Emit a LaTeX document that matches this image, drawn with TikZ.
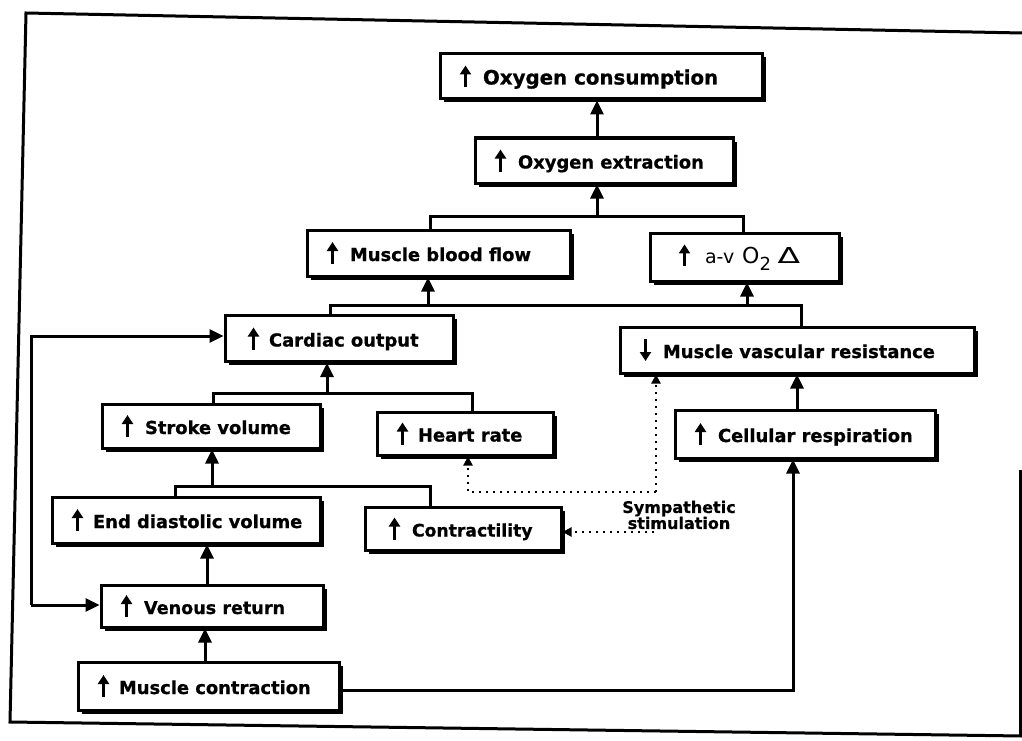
\documentclass[tikz,border=0pt]{standalone}
\usepackage{fontspec}
\usepackage{graphicx}
\setmainfont{DejaVu Sans}
\newfontfamily\heavy[FakeBold=0.8]{DejaVu Sans Bold}
\usetikzlibrary{arrows.meta,shadows}
\newcommand\myup{\tikz[baseline=0pt,x=1pt,y=1pt]\draw[line width=2.6pt,-{Triangle[length=9pt,width=11pt]}] (5.5,-3)--(5.5,19);}
\newcommand\mydown{\tikz[baseline=0pt,x=1pt,y=1pt]\draw[line width=2.6pt,-{Triangle[length=9pt,width=11pt]}] (5.5,19)--(5.5,-3);}
\newcommand\bx[2]{\makebox[#1][l]{#2}}
\begin{document}
\begin{tikzpicture}[x=1pt,y=-1pt,
  box/.style={draw, line width=3pt, fill=white, inner xsep=20pt, inner ysep=0pt,
    font=\fontsize{17.9}{20}\heavy,
    drop shadow={shadow xshift=3.5pt, shadow yshift=-3.5pt, fill=black, opacity=1}},
  conn/.style={line width=3pt},
  arr/.style={conn, -{Triangle[length=14pt,width=13pt]}},
  dots/.style={line width=2.6pt, dash pattern=on 2.5pt off 4.5pt},
  darr/.style={dots, -{Triangle[length=9pt,width=9pt]}},
  frame/.style={line width=3pt}
]
\useasboundingbox (0,0) rectangle (1022,741);
% frame
\draw[frame] (1022,33) -- (26,13) -- (10,722) -- (1022,736);
\draw[frame] (1020,470) -- (1020,735);

% boxes
\node[box, minimum height=45pt, font=\fontsize{19.8}{21}\heavy] (ocons) at (601,76.5) {\bx{282pt}{\myup\hspace{12pt}Oxygen consumption}};
\node[box, minimum height=45pt] (oext) at (604,160.5) {\bx{218pt}{\myup\hspace{12pt}Oxygen extraction}};
\node[box, minimum height=46pt] (mbf) at (438.5,253) {\bx{223pt}{\myup\hspace{12pt}Muscle blood flow}};
\node[box, minimum height=48pt] (av) at (744.5,257) {\bx{149pt}{\hspace{9pt}\myup\hspace{15pt}{\normalfont\fontsize{19}{21}\selectfont a-v\hspace{8pt}{\fontsize{22}{22}\selectfont O}\textsubscript{\fontsize{18}{18}\selectfont 2}\hspace{6pt}{\fontsize{22}{22}\selectfont\scalebox{1.5}[1]{Δ}}}}};
\node[box, minimum height=46pt] (co) at (339,338.5) {\bx{188pt}{\hspace{3pt}\myup\hspace{10pt}Cardiac output}};
\node[box, minimum height=46pt] (mvr) at (797,350) {\bx{314pt}{\mydown\hspace{12pt}Muscle vascular resistance}};
\node[box, minimum height=44pt] (sv) at (211,426) {\bx{178pt}{\myup\hspace{12pt}Stroke volume}};
\node[box, minimum height=43pt] (hr) at (465,433.5) {\bx{136pt}{\myup\hspace{10pt}Heart rate}};
\node[box, minimum height=48pt] (cr) at (805,434) {\bx{220pt}{\myup\hspace{12pt}Cellular respiration}};
\node[box, minimum height=46pt] (edv) at (186,520) {\bx{228pt}{\myup\hspace{10pt}End diastolic volume}};
\node[box, minimum height=43pt, font=\fontsize{17.2}{20}\heavy] (con) at (463,528.5) {\bx{156pt}{\hspace{4pt}\myup\hspace{12pt}Contractility}};
\node[box, minimum height=42pt, font=\fontsize{17.6}{20}\heavy] (vr) at (212,606) {\bx{182pt}{\myup\hspace{12pt}Venous return}};
\node[box, minimum height=48pt] (mc) at (208.5,686) {\bx{221pt}{\myup\hspace{10pt}Muscle contraction}};

\node[font=\fontsize{16}{16}\heavy, align=center, inner sep=0pt] (symp) at (679,515) {Sympathetic\\stimulation};

% coordinates
\coordinate (b1l) at (430,216); \coordinate (b1r) at (743,216); \coordinate (b1m) at (597,216);
\coordinate (b2l) at (330,305); \coordinate (b2r) at (801,305);
\coordinate (b2a) at (428,305); \coordinate (b2b) at (747,305);
\coordinate (b3l) at (213,393); \coordinate (b3r) at (472,393); \coordinate (b3m) at (327,393);
\coordinate (b4l) at (175,486); \coordinate (b4r) at (430,486); \coordinate (b4m) at (212,486);
\coordinate (xvr) at (207,0); \coordinate (xmc) at (205,0); \coordinate (xcr) at (797,0);
\coordinate (mcr) at (793,690);
\coordinate (lt) at (31,336); \coordinate (lb) at (31,605);
\coordinate (sj) at (656,492); \coordinate (sh) at (468,492); \coordinate (sc) at (654,532);

% solid connectors
\draw[arr] (oext.north -| b1m) -- (ocons.south -| b1m);
\draw[conn] (mbf.north -| b1l) -- (b1l) -- (b1r) -- (av.north -| b1r);
\draw[arr] (b1m) -- (oext.south -| b1m);
\draw[conn] (co.north -| b2l) -- (b2l) -- (b2r) -- (mvr.north -| b2r);
\draw[arr] (b2a) -- (mbf.south -| b2a);
\draw[arr] (b2b) -- (av.south -| b2b);
\draw[conn] (sv.north -| b3l) -- (b3l) -- (b3r) -- (hr.north -| b3r);
\draw[arr] (b3m) -- (co.south -| b3m);
\draw[conn] (edv.north -| b4l) -- (b4l) -- (b4r) -- (con.north -| b4r);
\draw[arr] (b4m) -- (sv.south -| b4m);
\draw[arr] (vr.north -| xvr) -- (edv.south -| xvr);
\draw[arr] (mc.north -| xmc) -- (vr.south -| xmc);
\draw[arr] (cr.north -| xcr) -- (mvr.south -| xcr);
\draw[arr] (mc.east |- mcr) -- (mcr) -- (cr.south -| mcr);
\draw[arr] (lb) -- (lt) -- (co.west |- lt);
\draw[arr] (lb) -- (vr.west |- lb);

% dotted connectors
\draw[darr] (sj) -- (mvr.south -| sj);
\draw[darr] (sj) -- (sh) -- (hr.south -| sh);
\draw[darr] (sc) -- (con.east |- sc);
\end{tikzpicture}
\end{document}
